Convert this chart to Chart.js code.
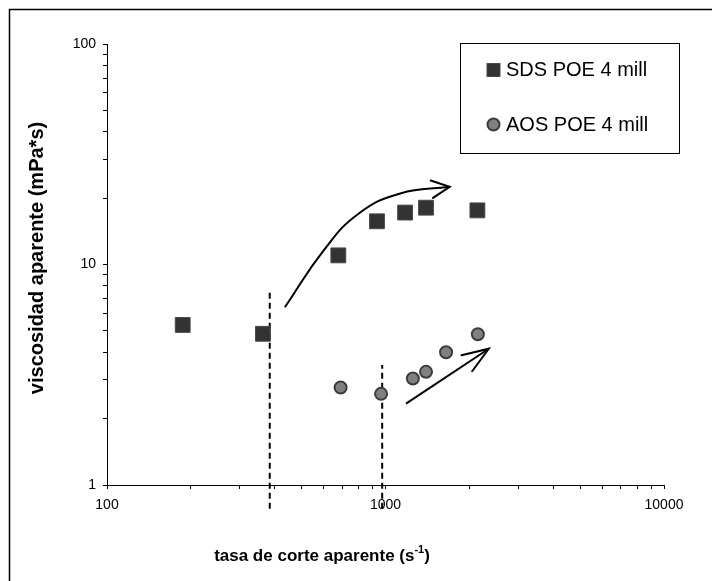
<!DOCTYPE html>
<html>
<head>
<meta charset="utf-8">
<title>Viscosidad aparente vs tasa de corte</title>
<script src="https://cdn.jsdelivr.net/npm/chart.js@4.4.1/dist/chart.umd.min.js"></script>
<style>
  html, body { margin: 0; padding: 0; background: #ffffff; }
  #wrap { width: 712px; height: 581px; position: relative; }
</style>
</head>
<body>
<div id="wrap"><canvas id="chart" width="712" height="581"></canvas></div>
<script>
// ---- data ----
const seriesNames = ['SDS POE 4 mill', 'AOS POE 4 mill'];

const shearSDS = [187, 363, 677, 932, 1176, 1398, 2138];
const viscSDS  = [5.32, 4.85, 11.0, 15.7, 17.2, 18.1, 17.6];

const shearAOS = [690, 964, 1254, 1398, 1650, 2146];
const viscAOS  = [2.77, 2.59, 3.04, 3.26, 4.00, 4.83];

// vertical dashed guides: x position, top and bottom viscosity
const guideShear  = [384, 973];
const guideTop    = [7.6, 3.5];
const guideBottom = [0.78, 0.78];

// trend arrows
const trendSDSx = [435, 600, 800, 1130, 1700];
const trendSDSy = [6.4, 11.6, 17.0, 21.0, 22.5];
const trendAOSx = [1185, 2349];
const trendAOSy = [2.34, 4.15];

// axis labels
const xTickLabels = [100, 1000, 10000];
const yTickLabels = [1, 10, 100];

// ---- helpers ----
const FONT = '"Liberation Sans", Arial, Helvetica, sans-serif';
const zip = (xs, ys) => xs.map((x, i) => ({ x: x, y: ys[i] }));

function logTicks(min, max) {
  const out = [];
  for (let d = min; d < max; d *= 10) {
    for (let k = 1; k < 10; k++) out.push({ value: d * k });
  }
  out.push({ value: max });
  return out;
}

const guideSets = guideShear.map((x, i) => ({
  label: 'guide' + i,
  data: [{ x: x, y: guideBottom[i] }, { x: x, y: guideTop[i] }],
  showLine: true,
  borderColor: '#000000',
  borderWidth: 2,
  borderDash: [6, 4],
  pointRadius: 0,
  clip: false,
  order: 5
}));

// ---- plugins ----
const framePlugin = {
  id: 'frame',
  beforeDraw(chart) {
    const c = chart.ctx;
    c.save();
    c.fillStyle = '#ffffff';
    c.fillRect(0, 0, chart.width, chart.height);
    c.strokeStyle = '#000000';
    c.lineWidth = 1.5;
    c.strokeRect(9.5, 9.5, chart.width + 20, chart.height + 20);
    c.restore();
  }
};

function arrowHead(c, tip, from, len, half) {
  const ang = Math.atan2(tip.y - from.y, tip.x - from.x);
  c.beginPath();
  c.moveTo(tip.x - len * Math.cos(ang - half), tip.y - len * Math.sin(ang - half));
  c.lineTo(tip.x, tip.y);
  c.lineTo(tip.x - len * Math.cos(ang + half), tip.y - len * Math.sin(ang + half));
  c.stroke();
}

const decorPlugin = {
  id: 'decor',
  afterDatasetsDraw(chart) {
    const c = chart.ctx;
    const xs = chart.scales.x, ys = chart.scales.y;
    const px = (x, y) => ({ x: xs.getPixelForValue(x), y: ys.getPixelForValue(y) });

    // arrow heads
    c.save();
    c.strokeStyle = '#000000';
    c.lineWidth = 2;
    c.lineCap = 'round';
    c.lineJoin = 'miter';
    let n = trendSDSx.length;
    arrowHead(c, px(trendSDSx[n - 1], trendSDSy[n - 1]), px(trendSDSx[n - 2], trendSDSy[n - 2]), 20, 26 * Math.PI / 180);
    n = trendAOSx.length;
    arrowHead(c, px(trendAOSx[n - 1], trendAOSy[n - 1]), px(trendAOSx[n - 2], trendAOSy[n - 2]), 28, 20 * Math.PI / 180);
    c.restore();

    // legend box
    const bx = 460, by = 43, bw = 219, bh = 110;
    c.save();
    c.fillStyle = '#ffffff';
    c.fillRect(bx, by, bw, bh);
    c.strokeStyle = '#000000';
    c.lineWidth = 1;
    c.strokeRect(bx + 0.5, by + 0.5, bw, bh);
    const sds = chart.data.datasets[0], aos = chart.data.datasets[1];
    // square marker
    c.fillStyle = sds.backgroundColor;
    c.strokeStyle = sds.borderColor;
    c.lineWidth = 1;
    c.fillRect(487, 63.5, 13, 13);
    c.strokeRect(487, 63.5, 13, 13);
    // circle marker
    c.beginPath();
    c.arc(493.5, 124.5, 6, 0, Math.PI * 2);
    c.fillStyle = aos.backgroundColor;
    c.fill();
    c.strokeStyle = aos.borderColor;
    c.lineWidth = 2;
    c.stroke();
    c.fillStyle = '#000000';
    c.font = '20px ' + FONT;
    c.textBaseline = 'middle';
    c.textAlign = 'left';
    c.fillText(seriesNames[0], 506, 70);
    c.fillText(seriesNames[1], 506, 125);
    c.restore();

    // axis titles
    c.save();
    c.fillStyle = '#000000';
    c.textBaseline = 'middle';
    c.font = 'bold 20px ' + FONT;
    c.translate(37, 258);
    c.rotate(-Math.PI / 2);
    c.textAlign = 'center';
    c.fillText('viscosidad aparente (mPa*s)', 0, 0);
    c.restore();

    c.save();
    c.fillStyle = '#000000';
    c.textBaseline = 'middle';
    c.textAlign = 'left';
    const main = 'tasa de corte aparente (s', sup = '-1', close = ')';
    const mainFont = 'bold 17px ' + FONT, supFont = 'bold 11px ' + FONT;
    c.font = mainFont; const w1 = c.measureText(main).width, w3 = c.measureText(close).width;
    c.font = supFont; const w2 = c.measureText(sup).width;
    let x0 = 322 - (w1 + w2 + w3) / 2;
    const yb = 556;
    c.font = mainFont; c.fillText(main, x0, yb);
    c.font = supFont; c.fillText(sup, x0 + w1, yb - 6);
    c.font = mainFont; c.fillText(close, x0 + w1 + w2, yb);
    c.restore();
  }
};

// ---- chart ----
new Chart(document.getElementById('chart'), {
  type: 'scatter',
  data: {
    datasets: [
      {
        label: seriesNames[0],
        data: zip(shearSDS, viscSDS),
        pointStyle: 'rect',
        pointRadius: 10.5,
        backgroundColor: '#333333',
        borderColor: '#4a4a4a',
        borderWidth: 1,
        order: 1
      },
      {
        label: seriesNames[1],
        data: zip(shearAOS, viscAOS),
        pointStyle: 'circle',
        pointRadius: 6,
        backgroundColor: '#808080',
        borderColor: '#3c3c3c',
        borderWidth: 2,
        order: 1
      },
      {
        label: 'trendSDS',
        data: zip(trendSDSx, trendSDSy),
        showLine: true,
        tension: 0.45,
        borderColor: '#000000',
        borderWidth: 2,
        pointRadius: 0,
        clip: false,
        order: 4
      },
      {
        label: 'trendAOS',
        data: zip(trendAOSx, trendAOSy),
        showLine: true,
        borderColor: '#000000',
        borderWidth: 2,
        pointRadius: 0,
        clip: false,
        order: 4
      },
      ...guideSets
    ]
  },
  options: {
    responsive: false,
    animation: false,
    events: [],
    layout: { padding: { left: 0, top: 44, right: 48, bottom: 0 } },
    plugins: {
      legend: { display: false },
      tooltip: { enabled: false }
    },
    scales: {
      x: {
        type: 'logarithmic',
        min: 100,
        max: 10000,
        afterBuildTicks: (s) => { s.ticks = logTicks(100, 10000); },
        afterFit: (s) => { s.height = 96; },
        border: { display: true, color: '#000000', width: 1 },
        grid: { drawOnChartArea: false, drawTicks: true, tickLength: 4, color: '#000000', tickColor: '#000000' },
        ticks: {
          autoSkip: false,
          maxRotation: 0,
          padding: 8,
          color: '#000000',
          font: { family: FONT, size: 14 },
          callback: (v) => xTickLabels.includes(v) ? String(v) : ''
        }
      },
      y: {
        type: 'logarithmic',
        min: 1,
        max: 100,
        afterBuildTicks: (s) => { s.ticks = logTicks(1, 100); },
        afterFit: (s) => { s.width = 107; },
        border: { display: true, color: '#000000', width: 1 },
        grid: { drawOnChartArea: false, drawTicks: true, tickLength: 4, color: '#000000', tickColor: '#000000' },
        ticks: {
          autoSkip: false,
          padding: 7,
          color: '#000000',
          font: { family: FONT, size: 14 },
          callback: (v) => yTickLabels.includes(v) ? String(v) : ''
        }
      }
    }
  },
  plugins: [framePlugin, decorPlugin]
});
</script>
</body>
</html>
